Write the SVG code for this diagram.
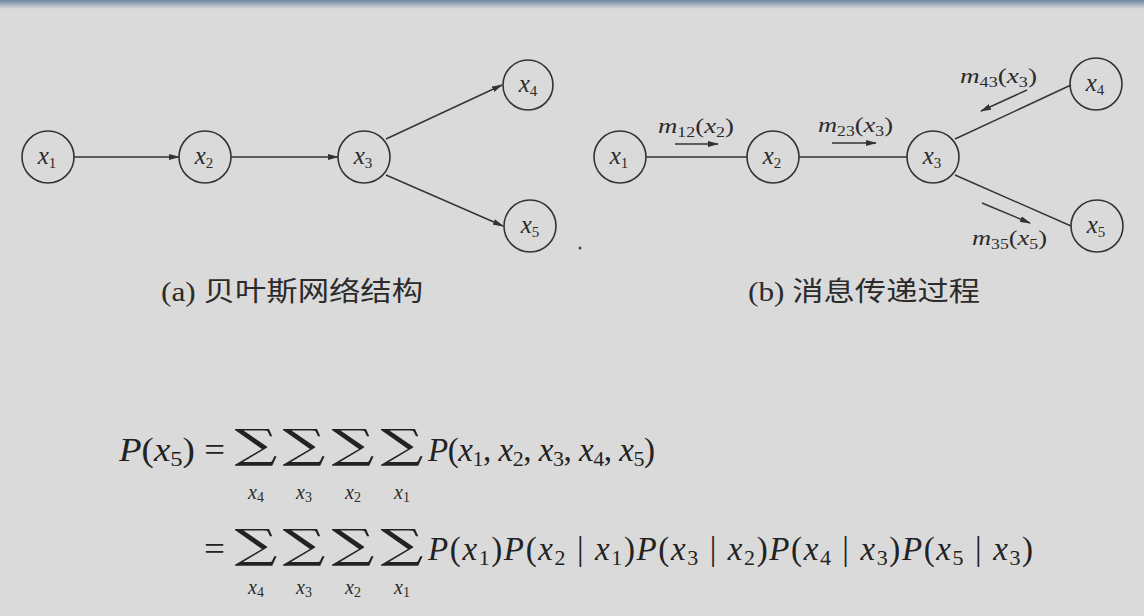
<svg xmlns="http://www.w3.org/2000/svg" width="1144" height="616" viewBox="0 0 1144 616">
  <defs>
    <linearGradient id="topbar" x1="0" y1="0" x2="0" y2="1">
      <stop offset="0" stop-color="#6d84a2"/>
      <stop offset="0.4" stop-color="#9aa8b8"/>
      <stop offset="1" stop-color="#dadada"/>
    </linearGradient>
    <marker id="ah" markerWidth="11" markerHeight="6" refX="10" refY="3" orient="auto" markerUnits="userSpaceOnUse">
      <path d="M0,0 L11,3 L0,6 Z" fill="#333"/>
    </marker>
  </defs>
  <style>
    .node circle { fill: none; stroke: #333; stroke-width: 1.6; }
    .v { font-family: "Liberation Serif", "DejaVu Serif", serif; font-style: italic; font-size: 25px; fill: #2b2b2b; }
    .sub { font-style: normal; font-size: 15px; }
    .edge { stroke: #333; stroke-width: 1.4; fill: none; }
    .msg { font-family: "Liberation Serif", "DejaVu Serif", serif; font-style: italic; font-size: 21px; fill: #2b2b2b; }
    .msub { font-style: normal; font-size: 14px; }
    .cap { font-family: "Liberation Serif", "Noto Sans CJK SC", serif; font-size: 27px; fill: #2b2b2b; }
    .eq { font-family: "Liberation Serif", "DejaVu Serif", serif; font-size: 33px; fill: #222; }
    .it { font-style: italic; }
    .esub { font-size: 22px; }
    .sum { font-family: "DejaVu Serif", serif; font-size: 40px; fill: #222; }
    .lim { font-family: "Liberation Serif", "DejaVu Serif", serif; font-style: italic; font-size: 20px; fill: #2b2b2b; }
    .lsub { font-style: normal; font-size: 14px; }
  </style>
  <rect width="1144" height="616" fill="#dadada"/>
  <rect width="1144" height="9" fill="url(#topbar)"/>
  <circle cx="580" cy="248" r="1.5" fill="#444"/>

  <!-- (a) Bayesian network -->
  <g id="connectors-a">
    <line class="edge" x1="74" y1="157" x2="179" y2="157" marker-end="url(#ah)"/>
    <line class="edge" x1="231" y1="157" x2="338" y2="157" marker-end="url(#ah)"/>
    <line class="edge" x1="386" y1="139" x2="502" y2="85" marker-end="url(#ah)"/>
    <line class="edge" x1="386" y1="175" x2="503" y2="226" marker-end="url(#ah)"/>
  </g>
  <g id="a-x1" class="node"><circle cx="48" cy="157" r="26"/><text class="v" x="47" y="164" text-anchor="middle">x<tspan class="sub" dy="4">1</tspan></text></g>
  <g id="a-x2" class="node"><circle cx="205" cy="157" r="26"/><text class="v" x="204" y="164" text-anchor="middle">x<tspan class="sub" dy="4">2</tspan></text></g>
  <g id="a-x3" class="node"><circle cx="364" cy="157" r="26"/><text class="v" x="363" y="164" text-anchor="middle">x<tspan class="sub" dy="4">3</tspan></text></g>
  <g id="a-x4" class="node"><circle cx="528" cy="85" r="25"/><text class="v" x="528" y="92" text-anchor="middle">x<tspan class="sub" dy="4">4</tspan></text></g>
  <g id="a-x5" class="node"><circle cx="530" cy="226" r="26"/><text class="v" x="530" y="233" text-anchor="middle">x<tspan class="sub" dy="4">5</tspan></text></g>
  <text class="cap" x="161" y="301" textLength="262" lengthAdjust="spacingAndGlyphs">(a) 贝叶斯网络结构</text>

  <!-- (b) message passing -->
  <g id="connectors-b">
    <line class="edge" x1="646" y1="157" x2="747" y2="157"/>
    <line class="edge" x1="799" y1="157" x2="907" y2="157"/>
    <line class="edge" x1="955" y1="139" x2="1071" y2="85"/>
    <line class="edge" x1="955" y1="175" x2="1071" y2="226"/>
    <line class="edge" x1="675" y1="144" x2="718" y2="144" marker-end="url(#ah)"/>
    <line class="edge" x1="832" y1="143" x2="876" y2="143" marker-end="url(#ah)"/>
    <line class="edge" x1="1027" y1="90" x2="981" y2="111" marker-end="url(#ah)"/>
    <line class="edge" x1="982" y1="203" x2="1030" y2="223" marker-end="url(#ah)"/>
  </g>
  <g id="b-x1" class="node"><circle cx="620" cy="157" r="26"/><text class="v" x="619" y="164" text-anchor="middle">x<tspan class="sub" dy="4">1</tspan></text></g>
  <g id="b-x2" class="node"><circle cx="773" cy="157" r="26"/><text class="v" x="772" y="164" text-anchor="middle">x<tspan class="sub" dy="4">2</tspan></text></g>
  <g id="b-x3" class="node"><circle cx="933" cy="157" r="26"/><text class="v" x="932" y="164" text-anchor="middle">x<tspan class="sub" dy="4">3</tspan></text></g>
  <g id="b-x4" class="node"><circle cx="1096" cy="84" r="26"/><text class="v" x="1095" y="91" text-anchor="middle">x<tspan class="sub" dy="4">4</tspan></text></g>
  <g id="b-x5" class="node"><circle cx="1097" cy="226" r="26"/><text class="v" x="1096" y="233" text-anchor="middle">x<tspan class="sub" dy="4">5</tspan></text></g>
  <text class="msg" x="658" y="133" textLength="76" lengthAdjust="spacingAndGlyphs">m<tspan class="msub" dy="4">12</tspan><tspan dy="-4" font-style="normal">(</tspan>x<tspan class="msub" dy="4">2</tspan><tspan dy="-4" font-style="normal">)</tspan></text>
  <text class="msg" x="818" y="132" textLength="75" lengthAdjust="spacingAndGlyphs">m<tspan class="msub" dy="4">23</tspan><tspan dy="-4" font-style="normal">(</tspan>x<tspan class="msub" dy="4">3</tspan><tspan dy="-4" font-style="normal">)</tspan></text>
  <text class="msg" x="960" y="83" textLength="77" lengthAdjust="spacingAndGlyphs">m<tspan class="msub" dy="4">43</tspan><tspan dy="-4" font-style="normal">(</tspan>x<tspan class="msub" dy="4">3</tspan><tspan dy="-4" font-style="normal">)</tspan></text>
  <text class="msg" x="972" y="245" textLength="75" lengthAdjust="spacingAndGlyphs">m<tspan class="msub" dy="4">35</tspan><tspan dy="-4" font-style="normal">(</tspan>x<tspan class="msub" dy="4">5</tspan><tspan dy="-4" font-style="normal">)</tspan></text>
  <text class="cap" x="748" y="301" textLength="232" lengthAdjust="spacingAndGlyphs">(b) 消息传递过程</text>

  <!-- equations -->
  <text class="eq" x="119" y="461" textLength="106" lengthAdjust="spacingAndGlyphs"><tspan class="it">P</tspan>(<tspan class="it">x</tspan><tspan class="esub" dy="5">5</tspan><tspan dy="-5">) =</tspan></text>
  <g class="sum" text-anchor="middle">
    <text transform="translate(256,458) scale(1.5,1)">∑</text>
    <text transform="translate(304,458) scale(1.5,1)">∑</text>
    <text transform="translate(353,458) scale(1.5,1)">∑</text>
    <text transform="translate(402,458) scale(1.5,1)">∑</text>
    <text transform="translate(256,558) scale(1.5,1)">∑</text>
    <text transform="translate(304,558) scale(1.5,1)">∑</text>
    <text transform="translate(353,558) scale(1.5,1)">∑</text>
    <text transform="translate(402,558) scale(1.5,1)">∑</text>
  </g>
  <g class="lim" text-anchor="middle">
    <text x="256" y="499">x<tspan class="lsub" dy="3">4</tspan></text>
    <text x="304" y="499">x<tspan class="lsub" dy="3">3</tspan></text>
    <text x="353" y="499">x<tspan class="lsub" dy="3">2</tspan></text>
    <text x="402" y="499">x<tspan class="lsub" dy="3">1</tspan></text>
    <text x="256" y="594">x<tspan class="lsub" dy="3">4</tspan></text>
    <text x="304" y="594">x<tspan class="lsub" dy="3">3</tspan></text>
    <text x="353" y="594">x<tspan class="lsub" dy="3">2</tspan></text>
    <text x="402" y="594">x<tspan class="lsub" dy="3">1</tspan></text>
  </g>
  <text class="eq" x="428" y="461" textLength="227" lengthAdjust="spacing"><tspan class="it">P</tspan>(<tspan class="it">x</tspan><tspan class="esub" dy="5">1</tspan><tspan dy="-5">, </tspan><tspan class="it">x</tspan><tspan class="esub" dy="5">2</tspan><tspan dy="-5">, </tspan><tspan class="it">x</tspan><tspan class="esub" dy="5">3</tspan><tspan dy="-5">, </tspan><tspan class="it">x</tspan><tspan class="esub" dy="5">4</tspan><tspan dy="-5">, </tspan><tspan class="it">x</tspan><tspan class="esub" dy="5">5</tspan><tspan dy="-5">)</tspan></text>
  <text class="eq" x="204" y="560" textLength="21" lengthAdjust="spacingAndGlyphs">=</text>
  <text class="eq" x="428" y="560" textLength="605" lengthAdjust="spacing"><tspan class="it">P</tspan>(<tspan class="it">x</tspan><tspan class="esub" dy="5">1</tspan><tspan dy="-5">)</tspan><tspan class="it">P</tspan>(<tspan class="it">x</tspan><tspan class="esub" dy="5">2</tspan><tspan dy="-5"> | </tspan><tspan class="it">x</tspan><tspan class="esub" dy="5">1</tspan><tspan dy="-5">)</tspan><tspan class="it">P</tspan>(<tspan class="it">x</tspan><tspan class="esub" dy="5">3</tspan><tspan dy="-5"> | </tspan><tspan class="it">x</tspan><tspan class="esub" dy="5">2</tspan><tspan dy="-5">)</tspan><tspan class="it">P</tspan>(<tspan class="it">x</tspan><tspan class="esub" dy="5">4</tspan><tspan dy="-5"> | </tspan><tspan class="it">x</tspan><tspan class="esub" dy="5">3</tspan><tspan dy="-5">)</tspan><tspan class="it">P</tspan>(<tspan class="it">x</tspan><tspan class="esub" dy="5">5</tspan><tspan dy="-5"> | </tspan><tspan class="it">x</tspan><tspan class="esub" dy="5">3</tspan><tspan dy="-5">)</tspan></text>
</svg>
